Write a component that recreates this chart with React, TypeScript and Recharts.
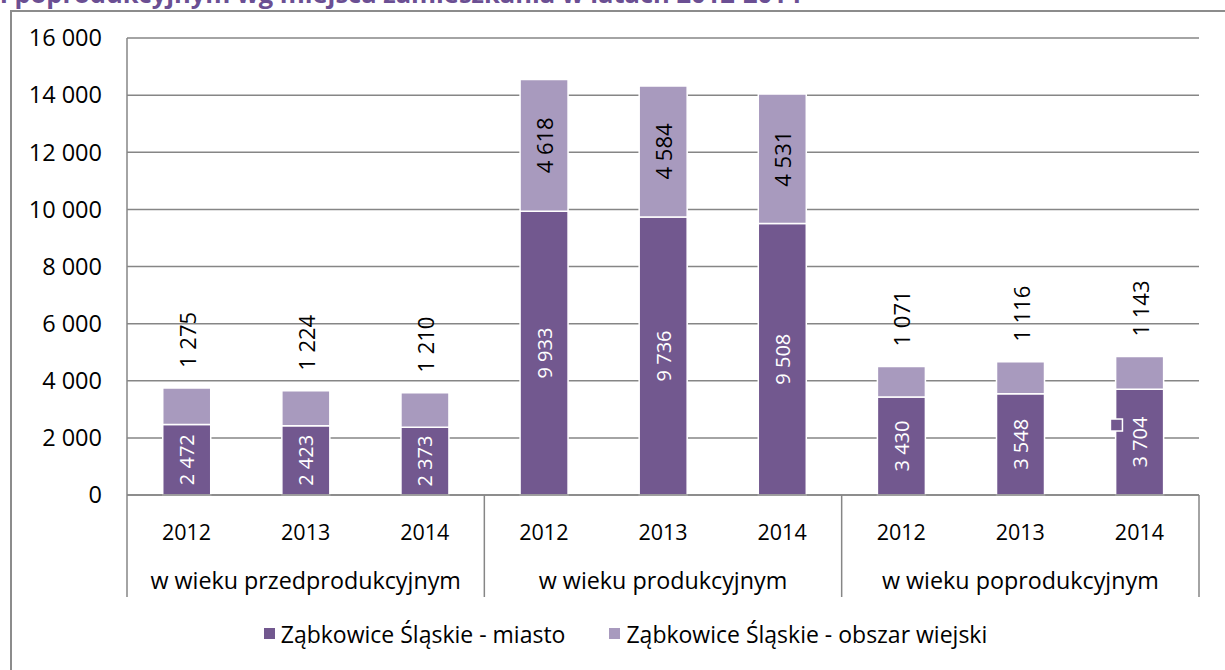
import * as React from "react";
import { BarChart, Bar, XAxis, YAxis, CartesianGrid, Legend, LabelList, ReferenceDot } from "recharts";

const groups = ["w wieku przedprodukcyjnym", "w wieku produkcyjnym", "w wieku poprodukcyjnym"];
const years = ["2012", "2013", "2014"];
const miasto = [2472, 2423, 2373, 9933, 9736, 9508, 3430, 3548, 3704];
const wiejski = [1275, 1224, 1210, 4618, 4584, 4531, 1071, 1116, 1143];
const yTicks = [0, 2000, 4000, 6000, 8000, 10000, 12000, 14000, 16000];
const seriesNames = ["Ząbkowice Śląskie - miasto", "Ząbkowice Śląskie - obszar wiejski"];
// stray marker seen next to the last bar
const markerValue = 2450;

const data = miasto.map((m, i) => ({
  key: groups[Math.floor(i / 3)] + "|" + years[i % 3],
  year: years[i % 3],
  group: groups[Math.floor(i / 3)],
  miasto: m,
  wiejski: wiejski[i],
}));

const FONT = "'Open Sans', sans-serif";
const DARK = "#72588f";
const LIGHT = "#a89abe";
const GRID = "#868686";

const W = 1225;
const H = 670;
const PLOT_LEFT = 127;
const PLOT_RIGHT = 1199;
const SLOT = (PLOT_RIGHT - PLOT_LEFT) / 9;
const YEAR_AXIS_H = 50;
const GROUP_AXIS_H = 52;

const fmt = (v: number) => String(v).replace(/\B(?=(\d{3})+(?!\d))/g, " ");

function box(props: any) {
  const vb = props.viewBox || {};
  return {
    x: props.x ?? vb.x,
    y: props.y ?? vb.y,
    width: props.width ?? vb.width,
    height: props.height ?? vb.height,
  };
}

function InsideLabel(props: any) {
  const { x, y, width, height } = box(props);
  const cx = x + width / 2;
  const cy = y + height / 2;
  return (
    <text
      x={cx}
      y={cy}
      transform={`rotate(-90 ${cx} ${cy})`}
      textAnchor="middle"
      dominantBaseline="central"
      fill="#ffffff"
      fontFamily={FONT}
      fontSize={20}
    >
      {fmt(props.value)}
    </text>
  );
}

function TopLabel(props: any) {
  const { x, y, width, height } = box(props);
  const cx = x + width / 2;
  if (height > 100) {
    const cy = y + height / 2;
    return (
      <text
        x={cx}
        y={cy}
        transform={`rotate(-90 ${cx} ${cy})`}
        textAnchor="middle"
        dominantBaseline="central"
        fill="#000"
        fontFamily={FONT}
        fontSize={22}
      >
        {fmt(props.value)}
      </text>
    );
  }
  const ay = y - 20;
  return (
    <text
      x={cx}
      y={ay}
      transform={`rotate(-90 ${cx} ${ay})`}
      textAnchor="start"
      dominantBaseline="central"
      fill="#000"
      fontFamily={FONT}
      fontSize={22}
    >
      {fmt(props.value)}
    </text>
  );
}

function YearTick(props: any) {
  const { x, y, index } = props;
  return (
    <text x={x} y={y + 36} textAnchor="middle" dominantBaseline="central" fill="#000" fontFamily={FONT} fontSize={21.5}>
      {data[index].year}
    </text>
  );
}

function GroupTick(props: any) {
  const { x, y, index } = props;
  const top = y - YEAR_AXIS_H;
  const bottom = y + GROUP_AXIS_H;
  return (
    <g>
      {index % 3 === 0 && (
        <line x1={x - SLOT / 2} x2={x - SLOT / 2} y1={top} y2={bottom} stroke={GRID} strokeWidth={1.5} />
      )}
      {index === data.length - 1 && (
        <line x1={x + SLOT / 2} x2={x + SLOT / 2} y1={top} y2={bottom} stroke={GRID} strokeWidth={1.5} />
      )}
      {index % 3 === 1 && (
        <text x={x} y={y + 35} textAnchor="middle" dominantBaseline="central" fill="#000" fontFamily={FONT} fontSize={23.3}>
          {data[index].group}
        </text>
      )}
    </g>
  );
}

function LegendContent(props: any) {
  const items = props.payload || [];
  return (
    <div
      style={{
        height: 73,
        display: "flex",
        justifyContent: "center",
        alignItems: "center",
        gap: 44,
        paddingLeft: 26,
        fontFamily: FONT,
        fontSize: 23,
        color: "#000",
      }}
    >
      {items.map((it: any) => (
        <div key={it.value} style={{ display: "flex", alignItems: "center" }}>
          <span style={{ width: 11, height: 11, background: it.color, marginRight: 6, display: "inline-block" }} />
          <span>{it.value}</span>
        </div>
      ))}
    </div>
  );
}

function Marker(props: any) {
  const { cx, cy } = props;
  return <rect x={cx - 29} y={cy - 6} width={12} height={12} fill={DARK} stroke="#fff" strokeWidth={1.5} />;
}

export default function App() {
  return (
    <div style={{ position: "absolute", left: 0, top: 0, width: W, height: H, overflow: "hidden", background: "#fff" }}>
      <div
        style={{
          position: "absolute",
          left: 0,
          top: -19,
          fontFamily: FONT,
          fontWeight: 700,
          fontSize: 25.5,
          lineHeight: "24px",
          color: "#6b4f93",
          whiteSpace: "nowrap",
        }}
      >
        i poprodukcyjnym wg miejsca zamieszkania w latach 2012-2014
      </div>
      <div
        style={{
          position: "absolute",
          left: 10,
          top: 10,
          width: W,
          height: H,
          borderLeft: "2px solid #8c8c8c",
          borderTop: "2px solid #8c8c8c",
        }}
      />
      <div style={{ position: "absolute", left: 0, top: 0 }}>
        <BarChart
          width={W}
          height={H}
          data={data}
          margin={{ top: 38, right: W - PLOT_RIGHT, left: PLOT_LEFT - 100, bottom: 0 }}
          barCategoryGap="30%"
        >
          <CartesianGrid vertical={false} stroke={GRID} strokeWidth={1.5} />
          <YAxis
            width={100}
            domain={[0, 16000]}
            ticks={yTicks}
            tickFormatter={fmt}
            tickLine={false}
            tickSize={0}
            tickMargin={25}
            axisLine={{ stroke: GRID, strokeWidth: 1.5 }}
            tick={{ fill: "#000", fontFamily: FONT, fontSize: 23.5 }}
            interval={0}
          />
          <XAxis
            dataKey="key"
            height={YEAR_AXIS_H}
            interval={0}
            tickLine={false}
            tickSize={0}
            tickMargin={0}
            axisLine={{ stroke: GRID, strokeWidth: 1.5 }}
            tick={YearTick}
          />
          <XAxis
            xAxisId="grp"
            dataKey="key"
            height={GROUP_AXIS_H}
            interval={0}
            tickLine={false}
            tickSize={0}
            tickMargin={0}
            axisLine={false}
            tick={GroupTick}
          />
          <Legend verticalAlign="bottom" wrapperStyle={{ left: 0, width: W }} content={LegendContent} />
          <Bar dataKey="miasto" name={seriesNames[0]} stackId="s" fill={DARK} stroke="#fff" strokeWidth={1.5} isAnimationActive={false}>
            <LabelList dataKey="miasto" content={InsideLabel} />
          </Bar>
          <Bar dataKey="wiejski" name={seriesNames[1]} stackId="s" fill={LIGHT} stroke="#fff" strokeWidth={1.5} isAnimationActive={false}>
            <LabelList dataKey="wiejski" content={TopLabel} />
          </Bar>
          <ReferenceDot x={data[8].key} y={markerValue} r={6} shape={Marker} />
        </BarChart>
      </div>
    </div>
  );
}
